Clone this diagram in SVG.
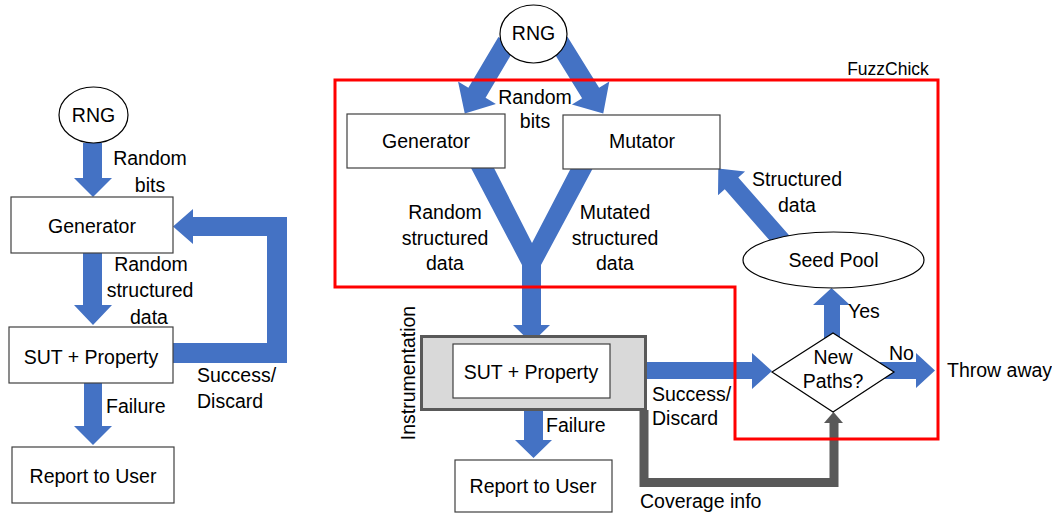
<svg xmlns="http://www.w3.org/2000/svg" width="1052" height="515" viewBox="0 0 1052 515">
<style>
  text { font-family: "Liberation Sans", Arial, sans-serif; font-size: 19.5px; fill: #000; }
  .c { text-anchor: middle; }
  .box { fill: #fff; stroke: #404040; stroke-width: 1.2; }
  .ell { fill: #fff; stroke: #000; stroke-width: 1.2; }
  .blue { fill: #4472c4; }
  .gray { fill: none; stroke: #595959; stroke-width: 9; }
</style>
<rect width="1052" height="515" fill="#fff"/>

<!-- connectors -->
<g id="connectors">
  <!-- left diagram -->
  <polygon class="blue" points="83,143 102,143 102,178 112,178 93,197 74,178 83,178"/>
  <polygon class="blue" points="83,253 102,253 102,305 112,305 93,325 74,305 83,305"/>
  <polygon class="blue" points="84,383 102,383 102,426 112,426 93,445 74,426 84,426"/>
  <polygon class="blue" points="173,343 267,343 267,236 193,236 193,244 173,226.5 193,209 193,217 287,217 287,363 173,363"/>
  <!-- right diagram -->
  <polygon class="blue" transform="translate(507,42) rotate(120.6)" points="0,-10 59,-10 59,-22 83,0 59,22 59,10 0,10"/>
  <polygon class="blue" transform="translate(559,42) rotate(58.2)" points="0,-10 60,-10 60,-22 84,0 60,22 60,10 0,10"/>
  <polygon class="blue" points="471,168 494,168 532,243 571,168 593,168 541,265 541,325 550,325 531.5,343 513,325 522,325 522,265"/>
  <polygon class="blue" points="524,398 543,398 543,440 552,440 533.5,458 515,440 524,440"/>
  <polygon class="blue" points="610,362 752,362 752,353 772,371 752,389 752,379 610,379"/>
  <polygon class="blue" points="880,362 916,362 916,353 935,370.5 916,388 916,379 880,379"/>
  <polygon class="blue" points="824,340 824,305 813,305 831.5,288 850,305 840,305 840,340"/>
  <polygon class="blue" transform="translate(783,242) rotate(-131.3)" points="0,-9 78,-9 78,-18 98,0 78,18 78,9 0,9"/>
  <polyline class="gray" points="644,410 644,482.5 834,482.5 834,422"/>
  <polygon fill="#595959" points="824,423 843,423 833.5,412"/>
</g>

<!-- left diagram nodes -->
<g id="l-rng">
  <ellipse class="ell" cx="93.5" cy="115" rx="34.5" ry="28"/>
  <text class="c" x="93.5" y="122">RNG</text>
</g>
<g id="l-generator">
  <rect class="box" x="11" y="197" width="162" height="56"/>
  <text class="c" x="92" y="233">Generator</text>
</g>
<g id="l-sut">
  <rect class="box" x="9" y="327" width="164" height="56"/>
  <text class="c" x="91" y="364">SUT + Property</text>
</g>
<g id="l-report">
  <rect class="box" x="12" y="447" width="162" height="56"/>
  <text class="c" x="93" y="483">Report to User</text>
</g>
<g id="l-labels">
  <text class="c" x="150" y="165">Random</text>
  <text class="c" x="150" y="192">bits</text>
  <text class="c" x="151" y="271">Random</text>
  <text class="c" x="150" y="297">structured</text>
  <text class="c" x="149" y="324">data</text>
  <text x="106" y="413">Failure</text>
  <text x="197" y="382">Success/</text>
  <text x="197" y="408">Discard</text>
</g>

<!-- right diagram nodes -->
<g id="instrumentation">
  <rect x="421.5" y="336.5" width="224" height="73" fill="#d9d9d9" stroke="#595959" stroke-width="3"/>
  <text class="c" transform="translate(415,373) rotate(-90)" x="0" y="0">Instrumentation</text>
</g>
<g id="r-rng">
  <ellipse class="ell" cx="533.5" cy="34" rx="33.5" ry="29"/>
  <text class="c" x="533.5" y="40">RNG</text>
</g>
<g id="r-generator">
  <rect class="box" x="347" y="114" width="158" height="54"/>
  <text class="c" x="426" y="148">Generator</text>
</g>
<g id="r-mutator">
  <rect class="box" x="563" y="115" width="157" height="54"/>
  <text class="c" x="642" y="148">Mutator</text>
</g>
<g id="r-sut">
  <rect class="box" x="453" y="344" width="157" height="54"/>
  <text class="c" x="531" y="379">SUT + Property</text>
</g>
<g id="r-report">
  <rect class="box" x="455" y="460" width="157" height="52"/>
  <text class="c" x="533" y="493">Report to User</text>
</g>
<g id="seed-pool">
  <ellipse class="ell" cx="833.5" cy="260" rx="90.5" ry="28"/>
  <text class="c" x="833.5" y="267">Seed Pool</text>
</g>
<g id="new-paths">
  <polygon fill="#fff" stroke="#000" stroke-width="1.2" points="772,372 833,333 894,372 833,412"/>
  <text class="c" x="833" y="364">New</text>
  <text class="c" x="833" y="388">Paths?</text>
</g>
<g id="fuzzchick">
  <polygon fill="none" stroke="#ff0000" stroke-width="3" points="335,80 938,80 938,439 735,439 735,287 335,287"/>
  <text class="c" x="888" y="75" style="font-size:17.5px">FuzzChick</text>
</g>
<g id="r-labels">
  <text class="c" x="535" y="104">Random</text>
  <text class="c" x="535" y="128">bits</text>
  <text class="c" x="445" y="219">Random</text>
  <text class="c" x="445" y="245">structured</text>
  <text class="c" x="445" y="270">data</text>
  <text class="c" x="615" y="219">Mutated</text>
  <text class="c" x="615" y="245">structured</text>
  <text class="c" x="615" y="270">data</text>
  <text class="c" x="797" y="186">Structured</text>
  <text class="c" x="797" y="212">data</text>
  <text x="546" y="432">Failure</text>
  <text x="652" y="401">Success/</text>
  <text x="652" y="425">Discard</text>
  <text x="640" y="508">Coverage info</text>
  <text x="848" y="318">Yes</text>
  <text x="889" y="360">No</text>
  <text x="947" y="377">Throw away</text>
</g>
</svg>
